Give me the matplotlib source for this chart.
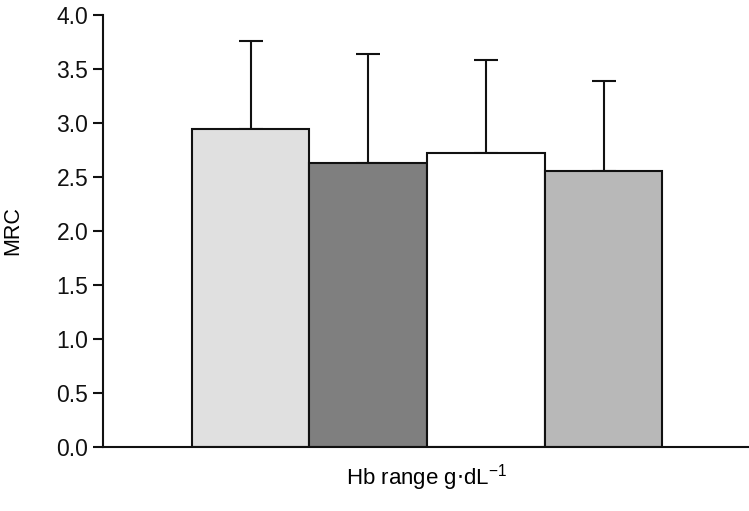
import numpy as np
import matplotlib.pyplot as plt

plt.rcParams['font.family'] = ['Liberation Sans', 'DejaVu Sans']

# MRC by Hb range group
groups = ['g1', 'g2', 'g3', 'g4']
mrc_mean = [2.94, 2.63, 2.72, 2.55]
mrc_err = [0.82, 1.01, 0.86, 0.84]
bar_colors = ['#e0e0e0', '#7f7f7f', '#ffffff', '#b8b8b8']

fig = plt.figure(figsize=(7.49, 5.11), dpi=100)
ax = fig.add_axes([0.1375, 0.1252, 0.8625, 0.846])

x = np.arange(len(groups))
ax.bar(x, mrc_mean, width=1.0, color=bar_colors, edgecolor='#111111', linewidth=1.5, zorder=2)
ax.errorbar(x, mrc_mean, yerr=[np.zeros(len(groups)), mrc_err], fmt='none',
            ecolor='#111111', elinewidth=1.5, capsize=8.3, capthick=1.5, zorder=1)

ax.set_xlim(-1.254, 4.235)
ax.set_ylim(0, 4.0)
ax.set_yticks(np.arange(0, 4.01, 0.5))
ax.set_yticklabels(['%.1f' % v for v in np.arange(0, 4.01, 0.5)])
ax.set_xticks([])

for s in ['top', 'right']:
    ax.spines[s].set_visible(False)
for s in ['left', 'bottom']:
    ax.spines[s].set_linewidth(1.5)
    ax.spines[s].set_color('#111111')

ax.tick_params(axis='y', direction='out', length=7, width=1.5, labelsize=16.5, pad=3.5, colors='#111111')
ax.set_ylabel('MRC', fontsize=15.5, labelpad=24)
ax.set_xlabel(r'Hb range g$\cdot$dL$^{\mathregular{-1}}$', fontsize=16, labelpad=11)

fig.savefig('out.png', dpi=100)
